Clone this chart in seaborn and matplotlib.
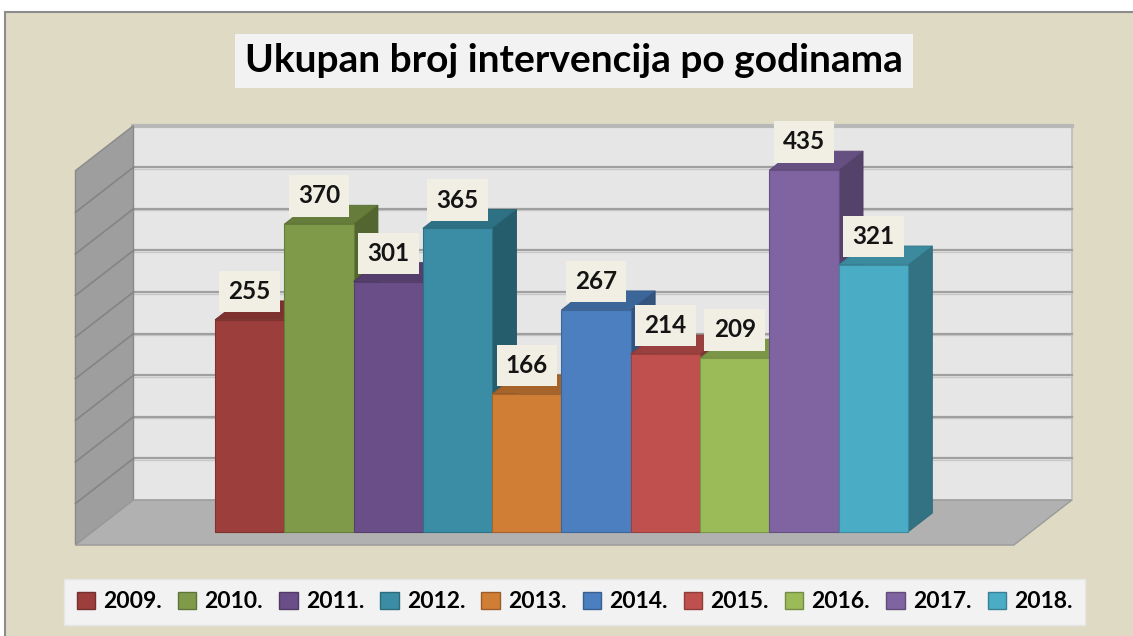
import numpy as np
import pandas as pd
import matplotlib
matplotlib.use("Agg")
import matplotlib.pyplot as plt
import seaborn as sns
from matplotlib.patches import Polygon, Rectangle, Patch
from matplotlib.colors import to_rgb

# data
years = ["2009.", "2010.", "2011.", "2012.", "2013.", "2014.", "2015.", "2016.", "2017.", "2018."]
values = [255, 370, 301, 365, 166, 267, 214, 209, 435, 321]
colors = ["#9C3E3C", "#7F9B49", "#6A4E88", "#3A8DA5", "#D07D36",
          "#4B7FC0", "#C0504D", "#9BBB59", "#8064A2", "#4BACC6"]
title = "Ukupan broj intervencija po godinama"

plt.rcParams["font.family"] = ["Lato", "DejaVu Sans"]


def shade(c, f):
    r, g, b = to_rgb(c)
    return (r * f, g * f, b * f)


fig = plt.figure(figsize=(11.33, 6.36), dpi=100, facecolor="white")
W, H = 1133, 636
fig.patches.append(Rectangle((5 / W, -0.01), 1.0, (H - 12) / H + 0.01, transform=fig.transFigure,
                             facecolor="#DFDAC4", edgecolor="#8C8C8C", linewidth=1.5, zorder=-1))

ax = fig.add_axes([0, 0, 1, 1])
ax.set_facecolor("none")
df = pd.DataFrame({"year": years, "value": values})
sns.barplot(data=df, x="year", y="value", hue="year", palette=colors, width=1.0,
            saturation=1, legend=False, ax=ax)
ax.set_xlim(-3.602, 12.747)
ax.set_ylim(-125.0, 639.4)
ax.axis("off")

# pseudo 3D box
DX, DY = 0.837, 54.1          # full floor depth in data units
t0, t1 = -0.29, 0.71          # front / back of floor relative to bar front
L, R = -2.27, 11.27
ymax = 450
ticks = np.arange(50, ymax, 50)

back = Polygon([(L + t1 * DX, t1 * DY), (R + t1 * DX, t1 * DY),
                (R + t1 * DX, ymax + t1 * DY), (L + t1 * DX, ymax + t1 * DY)],
               closed=True, facecolor="#E6E6E6", edgecolor="#BDBDBD", linewidth=1.2, zorder=0.5)
ax.add_patch(back)
for v in ticks:
    ax.plot([L + t1 * DX, R + t1 * DX], [v + t1 * DY - 2, v + t1 * DY - 2], color="#C8C8C8", lw=1.0, zorder=0.6)
    ax.plot([L + t1 * DX, R + t1 * DX], [v + t1 * DY, v + t1 * DY], color="#A0A0A0", lw=1.6, zorder=0.6)
ax.plot([L + t1 * DX, R + t1 * DX], [ymax + t1 * DY, ymax + t1 * DY], color="#B8B8B8", lw=3, zorder=0.6)

left = Polygon([(L + t0 * DX, t0 * DY), (L + t1 * DX, t1 * DY),
                (L + t1 * DX, ymax + t1 * DY), (L + t0 * DX, ymax + t0 * DY)],
               closed=True, facecolor="#9E9E9E", edgecolor="#8A8A8A", linewidth=1.0, zorder=0.7)
ax.add_patch(left)
for v in ticks:
    ax.plot([L + t0 * DX, L + t1 * DX], [v + t0 * DY, v + t1 * DY], color="#848484", lw=1.2, zorder=0.8)

floor = Polygon([(L + t0 * DX, t0 * DY), (R + t0 * DX, t0 * DY),
                 (R + t1 * DX, t1 * DY), (L + t1 * DX, t1 * DY)],
                closed=True, facecolor="#B1B1B1", edgecolor="#9A9A9A", linewidth=1.0, zorder=0.9)
ax.add_patch(floor)

# bar depth faces
bd = 0.42
dx, dy = bd * DX, bd * DY
bars = [p for p in ax.patches if p not in (back, left, floor)]
for i, (p, c, v) in enumerate(zip(bars, colors, values)):
    x0, w, h = p.get_x(), p.get_width(), p.get_height()
    z = 2 + i * 0.1
    side = Polygon([(x0 + w, 0), (x0 + w + dx, dy), (x0 + w + dx, h + dy), (x0 + w, h)],
                   closed=True, facecolor=shade(c, 0.66), edgecolor=shade(c, 0.6), lw=0.6, zorder=z)
    top = Polygon([(x0, h), (x0 + w, h), (x0 + w + dx, h + dy), (x0 + dx, h + dy)],
                  closed=True, facecolor=shade(c, 0.8), edgecolor=shade(c, 0.7), lw=0.6, zorder=z + 0.01)
    ax.add_patch(side)
    ax.add_patch(top)
    p.set_zorder(z + 0.02)
    p.set_edgecolor(shade(c, 0.8))
    p.set_linewidth(0.8)
    ax.text(x0 + w / 2, h + 34, str(v), ha="center", va="center", fontsize=17.5, fontweight="bold",
            color="#141414", zorder=10,
            bbox=dict(boxstyle="square,pad=0.38", facecolor="#F1EFE4", edgecolor="none"))

fig.text(574 / W, 1 - 61 / H, title, ha="center", va="center", fontsize=28, fontweight="bold",
         bbox=dict(boxstyle="square,pad=0.25", facecolor="#F2F2F2", edgecolor="none"))

handles = [Patch(facecolor=c, edgecolor=shade(c, 0.75)) for c in colors]
leg = fig.legend(handles, years, ncol=10, loc="center", mode="expand",
                 bbox_to_anchor=(64 / W, 1 - 627 / H, (1085 - 64) / W, 50 / H),
                 prop={"family": "Lato", "weight": "bold", "size": 16.5},
                 handlelength=0.8, handleheight=0.8, handletextpad=0.35,
                 borderpad=0.55, borderaxespad=0, fancybox=False, framealpha=1,
                 facecolor="#F2F2F2", edgecolor="#E6E6E6")

fig.savefig("out.png", dpi=100)
